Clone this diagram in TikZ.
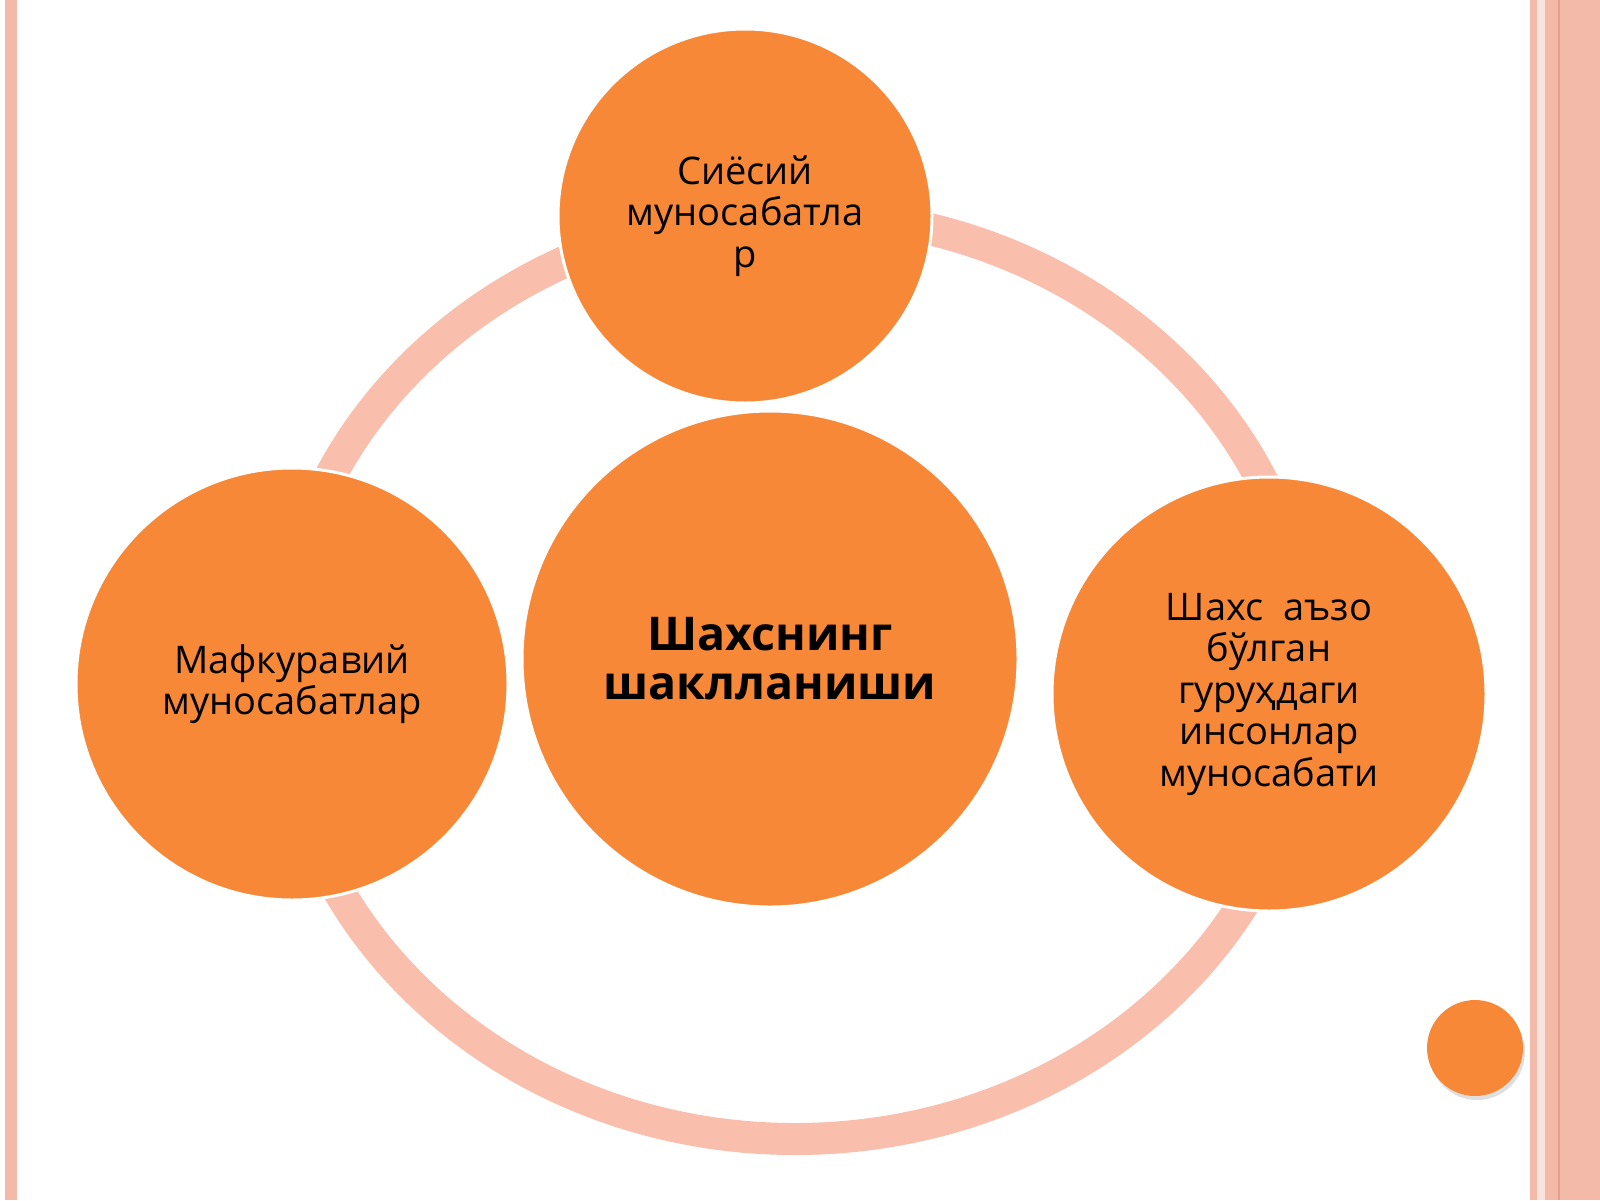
\documentclass[tikz,border=0pt]{standalone}
\usepackage{fontspec}
\setmainfont{Open Sans}
\usetikzlibrary{shadows}
\definecolor{orng}{RGB}{247,136,56}
\definecolor{ringc}{RGB}{249,190,172}
\definecolor{edgec}{RGB}{243,186,170}
\definecolor{edgedark}{RGB}{226,160,140}
\begin{document}
\begin{tikzpicture}[x=1pt,y=-1pt,
  bubble/.style={circle, fill=orng, draw=white, line width=3pt, inner sep=0pt,
    align=center, text=black, font=\fontsize{38}{41.5}\selectfont}]
\useasboundingbox (0,0) rectangle (1600,1200);
\fill[white] (0,0) rectangle (1600,1200);
% page border
\fill[edgec] (5,0) rectangle (17,1200);
\fill[edgec] (1530,0) rectangle (1537,1200);
\fill[white!60!edgec] (1537,0) rectangle (1545,1200);
\fill[edgec] (1545,0) rectangle (1600,1200);
\draw[edgedark, line width=1.5pt] (1559,0) -- (1559,1200);
% ring
\draw[ringc, line width=32pt] (795,676) ellipse [x radius=515, y radius=463];
% circles
\node[bubble, minimum size=374pt] (top) at (745,216) {Сиёсий\\муносабатла\\р};
\node[bubble, minimum size=496pt, font=\bfseries\fontsize{46.5}{49}\selectfont] (mid) at (770,659) {Шахснинг\\шаклланиши};
\node[bubble, minimum size=432pt] (left) at (292,684) {Мафкуравий\\муносабатлар};
\node[bubble, minimum size=434pt] (right) at (1269,694) {Шахс\ \ аъзо\\бўлган\\гуруҳдаги\\инсонлар\\муносабати};
\node[circle, fill=orng, inner sep=0pt, minimum size=96pt,
  drop shadow={shadow xshift=2pt, shadow yshift=-4pt, opacity=0.25, fill=gray}] (dot) at (1475,1048) {};
\end{tikzpicture}
\end{document}
